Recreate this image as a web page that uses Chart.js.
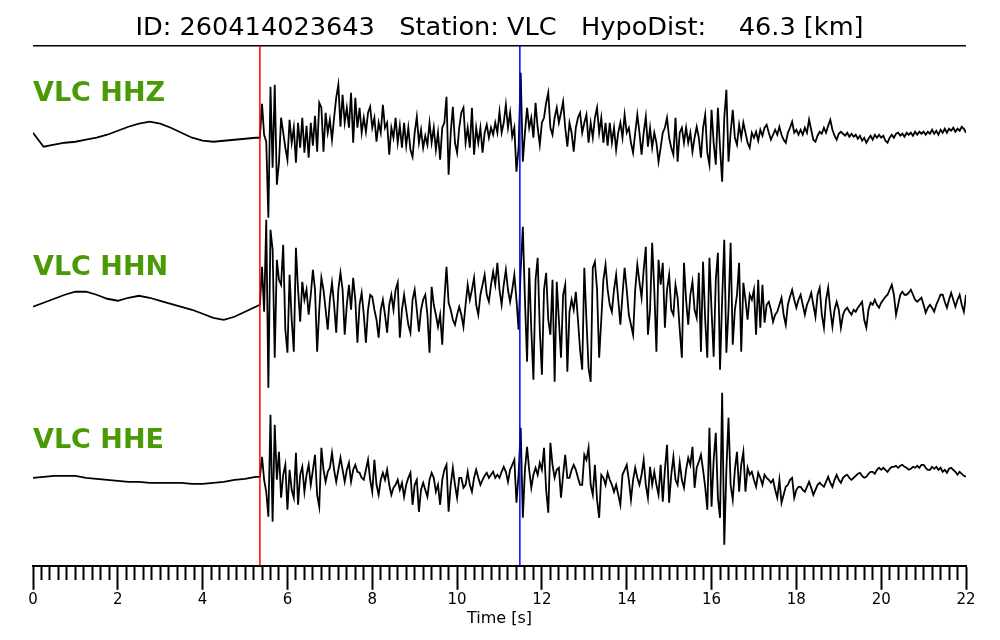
<!DOCTYPE html>
<html>
<head>
<meta charset="utf-8">
<script src="https://cdn.jsdelivr.net/npm/chart.js@4.4.1/dist/chart.umd.min.js"></script>
<style>
html,body{margin:0;padding:0;background:#fff;}
#wrap{width:1000px;height:640px;}
</style>
</head>
<body>
<div id="wrap"><canvas id="c" width="1000" height="640"></canvas></div>
<script>
// ---------------- data ----------------
const titleText = 'ID: 260414023643   Station: VLC   HypoDist:    46.3 [km]';
const channelNames = ['VLC HHZ', 'VLC HHN', 'VLC HHE'];
const xTickLabels = ['0','2','4','6','8','10','12','14','16','18','20','22'];
const xAxisTitle = 'Time [s]';

// picks [s]
const pPick = 5.35;
const sPick = 11.48;

const preStart = 0, preStep = 0.25;      // pre-event noise
const eventStart = 5.35, eventStep = 0.05; // event window

// pre-event samples (relative amplitude)
const hhzPre = [5,-9,-7,-5,-4,-2,0,3,7,11,14,16,14,10,5,0,-3,-4,-3,-2,-1,0];
const hhnPre = [-7,-3,1,5,8,8,5,1,-1,2,4,2,-1,-4,-7,-10,-14,-18,-20,-17,-12,-7];
const hhePre = [0,1,2,2,2,0,-1,-2,-3,-4,-4,-5,-5,-5,-5,-6,-6,-5,-4,-2,-1,1];

// event samples (relative amplitude), 20 samples per second
const hhzEvent = [
0,34,3,-4,-80,51,-30,53,-47,-25,20,5,-10,-22,18,-5,10,-25,15,-10,
20,-15,12,-20,15,-8,22,-14,35,30,-14,25,5,18,-2,20,40,53,11,43,
15,30,10,45,-5,40,10,30,5,20,6,25,31,10,20,-4,15,5,33,10,
15,-17,10,0,20,-5,12,-10,15,-8,10,-12,-19,5,21,-5,8,-10,2,-7,
15,-5,10,-12,5,-22,10,15,41,-37,5,31,-5,-15,10,25,30,-5,10,-10,
30,-17,10,-5,10,-15,5,13,0,10,3,15,5,26,5,15,33,10,25,1,
10,-34,-10,65,-24,5,30,10,20,0,35,10,-7,15,20,35,45,10,3,20,
30,15,25,36,10,-9,15,5,-14,10,20,25,5,15,23,-5,15,0,20,30,
5,20,-5,15,-8,15,-5,10,-12,5,15,0,23,5,10,-5,-15,5,23,5,
-17,5,21,-9,10,-10,5,-5,-24,-10,5,10,20,0,-10,-17,20,-24,5,10,
-5,10,-5,5,-14,0,11,0,-20,10,23,-15,-27,28,-5,-27,30,-10,-44,20,
48,-24,5,28,0,-7,13,0,15,5,-5,-10,5,0,6,-3,8,2,10,13,
5,-2,3,8,3,11,3,-2,-5,5,10,16,5,8,3,8,3,10,5,18,
8,-2,-4,2,6,4,10,5,12,18,8,2,-2,4,6,4,2,5,1,4,
1,3,-1,2,-3,0,-5,-1,2,-2,3,0,3,0,2,-3,-5,0,3,0,
4,5,2,4,1,5,3,5,2,6,3,6,4,6,3,6,4,8,4,7,
3,8,5,9,5,9,7,10,6,9,7,11,9,5
];
const hhnEvent = [
-5,33,-12,80,-88,70,50,-58,40,20,15,55,-30,-53,25,-20,-52,52,10,-22,
18,0,10,-15,5,30,10,-52,-10,22,10,-10,-30,0,17,-5,-33,10,27,10,
-35,-5,15,-10,22,0,-43,-5,7,-15,-43,-10,5,3,-10,-20,-38,-10,0,-15,
-33,-5,5,-10,10,17,-38,-10,5,-10,-25,-33,0,10,-10,-32,-10,0,5,-15,
-53,13,-5,-15,-27,-15,-45,0,33,-3,-10,-20,-25,-15,-7,-15,-27,-5,15,0,
10,22,-5,-15,5,15,25,5,-2,15,28,15,37,10,-5,15,30,10,-2,10,
25,0,-30,30,73,0,-62,32,-30,-80,20,42,-30,-75,10,27,-20,-35,20,-82,
18,-20,-58,5,15,-72,-12,0,-10,8,-20,-50,-70,32,-20,-68,-82,32,38,10,
-58,-20,20,35,10,-5,-12,10,25,0,-25,5,32,10,-15,-25,-35,10,35,18,
2,30,53,-35,-10,57,10,-52,40,15,37,-28,10,25,-10,-15,15,2,-30,-58,
37,0,-25,5,18,-10,-18,27,-52,38,-20,-58,42,-10,-57,20,47,-70,0,60,
-53,-10,57,-45,-10,5,37,-52,17,0,-20,5,0,10,-35,20,-28,15,-23,-5,
-2,-10,-22,-15,-12,-5,2,-15,-25,-5,3,10,0,-8,0,5,-5,-15,-5,0,
7,-5,-17,5,12,-15,-28,0,12,-10,-27,-10,-2,-10,-28,-15,-10,-8,-12,-15,
-10,-12,-8,-5,-2,-20,-28,-10,-3,-5,0,-5,-8,-3,0,3,5,10,15,5,
-15,-5,5,8,5,5,7,10,5,0,-2,0,2,-5,-13,-8,-5,-8,-12,-5,
0,5,5,-2,-8,0,7,0,-7,0,5,-5,-12,5
];
const hheEvent = [
1,21,-2,-14,-39,63,-44,53,-2,26,-20,3,13,-32,8,-12,-20,25,-27,3,
11,-14,3,13,-7,8,23,-17,-29,30,8,-4,6,10,25,8,-4,8,20,8,
-4,8,15,-4,8,13,6,5,0,-2,8,18,-2,-14,18,-7,-17,-2,5,-2,
8,-7,-17,-10,-7,-2,-12,-5,-19,-7,0,5,-27,-7,-2,-34,-12,-5,-12,-19,
-2,5,0,-14,-7,-27,-2,8,13,-34,-7,10,-7,-20,0,0,-10,-7,6,-7,
-14,0,8,0,-7,-2,2,5,0,3,6,0,3,0,6,11,6,-4,8,13,
18,-25,3,50,-40,8,31,8,-10,3,10,3,15,8,30,-12,-35,35,13,0,
8,10,-20,3,23,0,0,8,13,8,0,-7,-7,23,18,30,-7,-17,13,-22,
-40,3,0,-7,5,-2,-7,-14,-7,-17,-27,3,8,13,-2,-22,-2,10,0,-7,
3,18,-7,-20,11,-7,6,-7,-17,13,-24,8,33,-25,3,21,-2,-7,15,-2,
-10,8,20,13,31,-10,10,16,23,8,-9,-32,50,-29,18,45,-20,-40,85,-67,
8,60,-7,-22,8,26,-14,13,26,-14,10,3,6,-2,-9,5,0,-7,3,0,
-2,-5,-2,-12,-20,-2,-25,-17,-9,-7,-2,0,-20,-12,-9,-9,-12,-14,-9,-4,
-10,-17,-12,-7,-5,-7,-9,-4,1,-5,-9,-2,3,-2,-5,0,2,3,0,-2,
0,2,4,5,2,0,1,4,6,6,4,8,10,8,10,8,6,9,11,11,
12,10,12,13,11,10,8,9,11,10,12,10,13,13,10,8,8,11,9,11,
8,10,6,8,5,9,10,8,6,3,6,4,2,1
];

// ---------------- layout (vertical placement of the traces) ----------------
const yMin = 0, yMax = 520;
const traceLevels = [428, 266, 88];     // baseline of each trace on the y scale
const labelLevels = [465, 291, 118];    // text baseline of each channel label
const labelColor = '#4a9a06';

function buildTrace(pre, ev, level) {
  const pts = [];
  pre.forEach((v, k) => pts.push({x: preStart + k * preStep, y: level + v}));
  ev.forEach((v, i) => pts.push({x: +(eventStart + i * eventStep).toFixed(3), y: level + v}));
  return pts;
}

const traces = [
  buildTrace(hhzPre, hhzEvent, traceLevels[0]),
  buildTrace(hhnPre, hhnEvent, traceLevels[1]),
  buildTrace(hhePre, hheEvent, traceLevels[2])
];

const traceStyle = {borderColor: '#000', borderWidth: 1.8, pointRadius: 0, tension: 0, fill: false, order: 2};

const isMajor = v => Math.round(v * 10) % 20 === 0;

const labelPlugin = {
  id: 'channelLabels',
  afterDatasetsDraw(chart) {
    const {ctx, scales: {x, y}} = chart;
    ctx.save();
    ctx.fillStyle = labelColor;
    ctx.font = 'bold 27px "DejaVu Sans"';
    ctx.textAlign = 'left';
    ctx.textBaseline = 'alphabetic';
    channelNames.forEach((name, k) => {
      ctx.fillText(name, x.getPixelForValue(0), y.getPixelForValue(labelLevels[k]));
    });
    ctx.restore();
  }
};

new Chart(document.getElementById('c'), {
  type: 'line',
  data: {
    datasets: [
      Object.assign({data: traces[0]}, traceStyle),
      Object.assign({data: traces[1]}, traceStyle),
      Object.assign({data: traces[2]}, traceStyle),
      {data: [{x: pPick, y: yMin}, {x: pPick, y: yMax}], borderColor: '#ff0000', borderWidth: 1.5, pointRadius: 0, order: 1, clip: false},
      {data: [{x: sPick, y: yMin}, {x: sPick, y: yMax}], borderColor: '#0000ff', borderWidth: 1.5, pointRadius: 0, order: 1, clip: false},
      {data: [{x: 0, y: yMax}, {x: 22, y: yMax}], borderColor: '#000', borderWidth: 1.5, pointRadius: 0, order: 1, clip: false}
    ]
  },
  options: {
    responsive: false,
    animation: false,
    devicePixelRatio: 1,
    events: [],
    layout: {padding: {left: 33, right: 34, top: 0, bottom: 12}},
    plugins: {
      legend: {display: false},
      tooltip: {enabled: false},
      title: {
        display: true,
        text: titleText,
        color: '#000',
        font: {family: 'DejaVu Sans', size: 25.6, weight: 'normal', lineHeight: 1.2},
        padding: {top: 13, bottom: 2}
      }
    },
    scales: {
      x: {
        type: 'linear',
        min: 0, max: 22,
        border: {display: true, color: '#000', width: 2},
        grid: {
          display: true,
          drawOnChartArea: false,
          drawTicks: true,
          tickLength: 24,
          tickWidth: 2,
          tickColor: '#000',
          tickBorderDash: c => (c.tick && isMajor(c.tick.value)) ? [] : [13, 40]
        },
        ticks: {
          stepSize: 0.2,
          autoSkip: false,
          maxRotation: 0,
          minRotation: 0,
          padding: 3,
          color: '#000',
          font: {family: 'DejaVu Sans', size: 15, lineHeight: 1},
          callback: v => isMajor(v) ? xTickLabels[Math.round(v / 2)] : ''
        },
        title: {
          display: true,
          text: xAxisTitle,
          color: '#000',
          font: {family: 'DejaVu Sans', size: 16, lineHeight: 1.2},
          padding: {top: -2, bottom: 0}
        }
      },
      y: {
        type: 'linear',
        min: yMin, max: yMax,
        display: false
      }
    }
  },
  plugins: [labelPlugin]
});
</script>
</body>
</html>
